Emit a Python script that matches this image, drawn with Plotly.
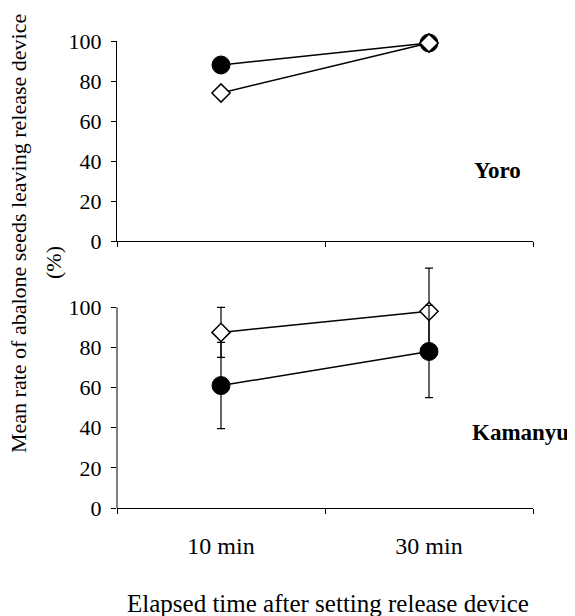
import plotly.graph_objects as go

categories = ["10 min", "30 min"]
yoro_filled = [88, 99]
yoro_open = [74, 99]
kam_filled = [61, 78]
kam_filled_err = [21.5, 23]
kam_open = [87.5, 98]
kam_open_err = [12.5, 21.5]
y_ticks = [0, 20, 40, 60, 80, 100]

FONT = "Liberation Serif, Times New Roman, Times, serif"
OFF = 8  # default body margin of the page
W, H = 575 - 2 * OFF, 616 - OFF
L, R, T, B = 117 - OFF, 42 - OFF, 41 - OFF, 116 - OFF
ph = H - T - B
pw = W - L - R

def px2paper(x, y):
    return (x - OFF - L) / pw, (OFF + H - B - y) / ph

fig = go.Figure()

circle = dict(symbol="circle", size=18, color="black", line=dict(color="black", width=1))
diamond = dict(symbol="diamond", size=14, color="white", line=dict(color="black", width=1.5))
line = dict(color="black", width=1.5)

fig.add_trace(go.Scatter(x=categories, y=yoro_filled, mode="lines+markers", marker=circle,
                         line=line, xaxis="x", yaxis="y", cliponaxis=False, showlegend=False))
fig.add_trace(go.Scatter(x=categories, y=yoro_open, mode="lines+markers", marker=diamond,
                         line=line, xaxis="x", yaxis="y", cliponaxis=False, showlegend=False))
fig.add_trace(go.Scatter(x=categories, y=kam_open, mode="lines+markers", marker=diamond,
                         line=line, xaxis="x2", yaxis="y2", cliponaxis=False, showlegend=False,
                         error_y=dict(type="data", array=kam_open_err, visible=True,
                                      color="black", thickness=1.2, width=4)))
fig.add_trace(go.Scatter(x=categories, y=kam_filled, mode="lines+markers", marker=circle,
                         line=line, xaxis="x2", yaxis="y2", cliponaxis=False, showlegend=False,
                         error_y=dict(type="data", array=kam_filled_err, visible=True,
                                      color="black", thickness=1.2, width=4)))

xcommon = dict(type="category", range=[-0.5, 1.5], tickson="boundaries", ticks="outside",
               ticklen=5, tickcolor="black", showline=True, linecolor="black", linewidth=1,
               showgrid=False, zeroline=False, fixedrange=True)
ycommon = dict(tickvals=y_ticks, ticks="outside", ticklen=5, tickcolor="black",
               showgrid=False, zeroline=False, tickfont=dict(family=FONT, size=22, color="black"),
               ticklabelstandoff=5)

fig.update_layout(
    width=W, height=H,
    margin=dict(l=L, r=R, t=T, b=B),
    paper_bgcolor="white", plot_bgcolor="white",
    font=dict(family=FONT, color="black"),
    xaxis=dict(**xcommon, domain=[0, 1], anchor="y", showticklabels=False),
    yaxis=dict(**ycommon, domain=[1 - 200 / ph, 1], range=[0, 100], showline=True,
               linecolor="black", linewidth=1, anchor="x"),
    xaxis2=dict(**xcommon, domain=[0, 1], anchor="y2", showticklabels=True,
                tickfont=dict(family=FONT, size=24, color="black"), ticklabelstandoff=16),
    yaxis2=dict(**ycommon, domain=[0, 121 * 2.007 / ph], range=[0, 121], showline=False,
                anchor="x2"),
)

fig.add_shape(type="line", xref="x2 domain", x0=0, x1=0, yref="y2", y0=0, y1=100,
              line=dict(color="black", width=1))

ann = []
x, y = px2paper(497, 170)
ann.append(dict(text="<b>Yoro</b>", x=x, y=y, font=dict(size=23)))
x, y = px2paper(470, 432)
ann.append(dict(text="<b>Kamanyu</b>", x=x, y=y, xanchor="left", font=dict(size=23)))
x, y = px2paper(18, 234)
ann.append(dict(text="Mean rate of abalone seeds leaving release device", x=x, y=y,
                textangle=-90, font=dict(size=22)))
x, y = px2paper(53, 263)
ann.append(dict(text="(%)", x=x, y=y, textangle=-90, font=dict(size=22)))
x, y = px2paper(328, 603)
ann.append(dict(text="Elapsed time after setting release device", x=x, y=y, font=dict(size=25)))

for a in ann:
    a.update(xref="paper", yref="paper", showarrow=False)
    a.setdefault("xanchor", "center")
    a["yanchor"] = "middle"
    a["font"].update(family=FONT, color="black")
    fig.add_annotation(**a)

fig.write_html("out.html")
